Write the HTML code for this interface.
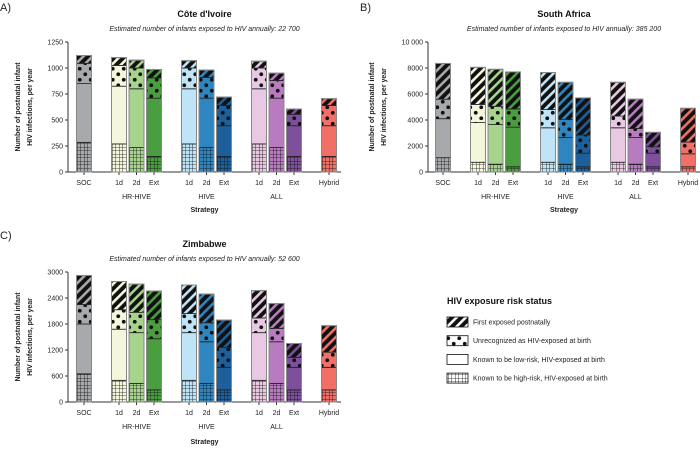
<!DOCTYPE html>
<html><head><meta charset="utf-8"><style>
html,body{margin:0;padding:0;background:#fff;}
svg{display:block;font-family:"Liberation Sans",sans-serif;}
</style></head><body>
<svg id="chart" width="700" height="449" viewBox="0 0 700 449" xmlns="http://www.w3.org/2000/svg">
<defs id="defs"></defs>
<g id="root"></g>
<g id="legend">
<text x="447" y="304" font-size="9" font-weight="bold" fill="#111">HIV exposure risk status</text>
</g>
</svg>
<script>
const categories = ["SOC","1d","2d","Ext","1d","2d","Ext","1d","2d","Ext","Hybrid"];
const groups = ["HR-HIVE","HIVE","ALL"];
const slots = [0,2,3,4,6,7,8,10,11,12,14];
const colors = ["#a7a9ac","#f5f7dc","#a6d48c","#4a9e3f","#bfe3f7","#2e86c1","#1c5f9a","#e8c8e2","#b87bbf","#7e4f9a","#f07067"];
const seriesNames = ["Known to be high-risk, HIV-exposed at birth","Known to be low-risk, HIV-exposed at birth","Unrecognized as HIV-exposed at birth","First exposed postnatally"];

const aHigh = [285,270,235,150,270,235,150,270,235,150,150];
const aLow = [565,555,565,560,530,475,295,530,475,295,295];
const aUnrec = [195,200,200,195,200,200,195,200,170,110,195];
const aPost = [75,75,75,80,70,70,80,65,70,50,65];
const aTicks = [0,250,500,750,1000,1250];

const bHigh = [1100,750,600,400,750,600,400,750,600,400,400];
const bLow = [3000,3050,3050,3050,2650,2050,1050,2650,2050,1050,1000];
const bUnrec = [1500,1400,1400,1400,1400,1400,1400,900,700,500,900];
const bPost = [2750,2850,2850,2850,2850,2850,2850,2600,2250,1100,2600];
const bTicks = [0,2000,4000,6000,8000,10000];

const cHigh = [650,500,430,280,500,430,280,500,430,280,280];
const cLow = [1150,1180,1170,1180,1100,960,520,1100,960,520,520];
const cUnrec = [450,450,470,440,440,440,460,340,310,230,350];
const cPost = [670,650,650,660,660,660,630,630,570,320,610];
const cTicks = [0,600,1200,1800,2400,3000];

const panels = [
 {id:"a",label:"A)",title:"Côte d'Ivoire",sub:"Estimated number of infants exposed to HIV annually: 22 700",ox:0,oy:0,labY:11,axisX:68,x0:84,high:aHigh,low:aLow,unrec:aUnrec,post:aPost,ticks:aTicks,tickLabels:["0","250","500","750","1000","1250"],stratY:212,lx:[20,32]},
 {id:"b",label:"B)",title:"South Africa",sub:"Estimated number of infants exposed to HIV annually: 385 200",ox:0,oy:0,labY:11,axisX:428,x0:443,high:bHigh,low:bLow,unrec:bUnrec,post:bPost,ticks:bTicks,tickLabels:["0","2000","4000","6000","8000","10 000"],stratY:212,lx:[374,386]},
 {id:"c",label:"C)",title:"Zimbabwe",sub:"Estimated number of infants exposed to HIV annually: 52 600",ox:0,oy:230,labY:239,axisX:68,x0:84,high:cHigh,low:cLow,unrec:cUnrec,post:cPost,ticks:cTicks,tickLabels:["0","600","1200","1800","2400","3000"],stratY:444,lx:[20,32]}
];

const NS="http://www.w3.org/2000/svg";
const defs=document.getElementById('defs');
const root=document.getElementById('root');
function mk(tag,attrs,parent){const e=document.createElementNS(NS,tag);for(const k in attrs)e.setAttribute(k,attrs[k]);if(parent)parent.appendChild(e);return e;}

colors.concat(["#ffffff"]).forEach((c,i)=>{
  const p1=mk('pattern',{id:'grid'+i,width:3.5,height:3.5,patternUnits:'userSpaceOnUse'},defs);
  mk('rect',{width:3.5,height:3.5,fill:c},p1);
  mk('path',{d:'M0 0H3.5M0 0V3.5',stroke:'#111','stroke-width':0.8},p1);
  const p2=mk('pattern',{id:'dots'+i,width:11,height:11,patternUnits:'userSpaceOnUse'},defs);
  mk('rect',{width:11,height:11,fill:c},p2);
  mk('circle',{cx:2.75,cy:2.75,r:1.9,fill:'#111'},p2);
  mk('circle',{cx:8.25,cy:8.25,r:1.9,fill:'#111'},p2);
  const p3=mk('pattern',{id:'stripe'+i,width:6.5,height:6.5,patternUnits:'userSpaceOnUse',patternTransform:'rotate(45)'},defs);
  mk('rect',{width:6.5,height:6.5,fill:'#111'},p3);
  mk('rect',{x:0,y:0,width:2.6,height:6.5,fill:c},p3);
});

const SLOT=17.5, BW=15, H=130;
panels.forEach(P=>{
  const g=mk('g',{},root);
  
  
  const base=172+P.oy, top=42+P.oy;
  const maxV=P.ticks[P.ticks.length-1];
  const y=v=>base-v/maxV*H;
  const x=i=>P.x0+slots[i]*SLOT;
  const endX=x(categories.length-1)+12;
  const mid=(P.axisX+endX)/2;
  let t;
  t=mk('text',{x:P.axisX-68,y:P.labY,'font-size':11,fill:'#222'},g);t.textContent=P.label;
  
  t=mk('text',{x:mid,y:17+P.oy,'font-size':9,'font-weight':'bold','text-anchor':'middle',fill:'#111'},g);t.textContent=P.title;
  
  t=mk('text',{x:mid,y:31+P.oy,'font-size':7,'font-style':'italic','text-anchor':'middle',fill:'#222'},g);t.textContent=P.sub;
  
  mk('line',{x1:P.axisX,y1:top,x2:P.axisX,y2:base,stroke:'#333','stroke-width':1},g);
  mk('line',{x1:P.axisX,y1:base,x2:endX,y2:base,stroke:'#333','stroke-width':1},g);
  P.ticks.forEach((tv,k)=>{
    mk('line',{x1:P.axisX-3,y1:y(tv),x2:P.axisX,y2:y(tv),stroke:'#333'},g);
    const tt=mk('text',{x:P.axisX-5,y:y(tv)+2.5,'font-size':7,'text-anchor':'end',fill:'#222'},g);
    tt.textContent=P.tickLabels[k];
    
    
  });
  const yl=mk('text',{transform:`translate(${P.lx[0]},${(top+base)/2}) rotate(-90)`,'font-size':7,'font-weight':'bold','text-anchor':'middle',fill:'#222'},g);
  yl.textContent='Number of postnatal infant';
  
  const yl2=mk('text',{transform:`translate(${P.lx[1]},${(top+base)/2}) rotate(-90)`,'font-size':7,'font-weight':'bold','text-anchor':'middle',fill:'#222'},g);
  yl2.textContent='HIV infections, per year';
  
  const st=mk('text',{x:mid,y:P.stratY,'font-size':7,'font-weight':'bold','text-anchor':'middle',fill:'#222'},g);
  st.textContent='Strategy';
  
  groups.forEach((gn,k)=>{
    const gt=mk('text',{x:x(2+3*k),y:base+27,'font-size':7,'text-anchor':'middle',fill:'#222'},g);
    gt.textContent=gn;
    
  });
  categories.forEach((c,i)=>{
    mk('line',{x1:x(i),y1:base,x2:x(i),y2:base+3,stroke:'#333'},g);
    const ct=mk('text',{x:x(i),y:base+13,'font-size':7,'text-anchor':'middle',fill:'#222'},g);
    ct.textContent=c;
    
    const segs=[P.high[i],P.low[i],P.unrec[i],P.post[i]];
    const fills=['url(#grid'+i+')',colors[i],'url(#dots'+i+')','url(#stripe'+i+')'];
    let cum=0;
    const bg=mk('g',{},g);
    
    
    segs.forEach((v,s)=>{
      const r=mk('rect',{x:x(i)-BW/2,y:y(cum+v),width:BW,height:y(cum)-y(cum+v),fill:fills[s],stroke:'#222','stroke-width':0.8},bg);
      
      
      cum+=v;
    });
    mk('rect',{x:x(i)-BW/2,y:y(cum),width:BW,height:base-y(cum),fill:'none',stroke:'#888','stroke-width':1},bg);
  });
});

const lfills=['url(#stripe11)','url(#dots11)','#ffffff','url(#grid11)'];
const lnames=[seriesNames[3],seriesNames[2],seriesNames[1],seriesNames[0]];
const lg=document.getElementById('legend');
lnames.forEach((n,k)=>{
  const cy=322+k*18.7;
  const r=mk('rect',{x:447,y:cy-5,width:21,height:10,fill:lfills[k],stroke:'#111','stroke-width':0.8},lg);
  
  const t=mk('text',{x:473,y:cy+2.5,'font-size':7,fill:'#222'},lg);
  t.textContent=n;
  
});
</script>
</body></html>
